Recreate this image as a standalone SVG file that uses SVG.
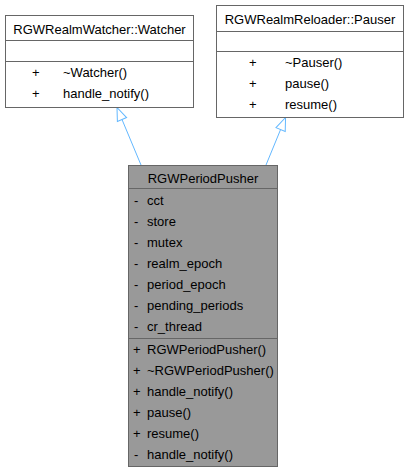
<svg xmlns="http://www.w3.org/2000/svg" width="405" height="475" viewBox="0 0 405 475">
<defs>
<marker id="inh" markerUnits="userSpaceOnUse" viewBox="-1 -7 16 14" refX="0" refY="0" markerWidth="16" markerHeight="14" orient="auto" overflow="visible">
<path d="M0,-5 L13,0 L0,5 Z" fill="#ffffff" stroke="#63b8ff" stroke-width="1"/>
</marker>
</defs>
<style>
text{font-family:"Liberation Sans",Arial,sans-serif;font-size:13px;fill:#000}
.box{fill:#ffffff;stroke:#666666;stroke-width:1}
.cur{fill:#999999;stroke:#666666;stroke-width:1}
.sep{stroke:#666666;stroke-width:1}
.c{text-anchor:middle}
.edge{stroke:#63b8ff;stroke-width:1;fill:none}
</style>
<rect width="405" height="475" fill="#ffffff"/>
<g id="connectors">
<line class="edge" x1="141" y1="165" x2="122" y2="119.5" marker-end="url(#inh)"/>
<line class="edge" x1="266" y1="165" x2="280.6" y2="129.5" marker-end="url(#inh)"/>
</g>
<g id="watcher">
<rect class="box" x="5.5" y="15.5" width="188" height="92"/>
<line class="sep" x1="5.5" y1="40.5" x2="193.5" y2="40.5"/>
<line class="sep" x1="5.5" y1="61.5" x2="193.5" y2="61.5"/>
<text class="c" x="99.5" y="33.5">RGWRealmWatcher::Watcher</text>
<text x="32" y="76.5">+</text><text x="63" y="76.5">~Watcher()</text>
<text x="32" y="97.5">+</text><text x="63" y="97.5">handle_notify()</text>
</g>
<g id="pauser">
<rect class="box" x="216.5" y="5.5" width="187" height="112"/>
<line class="sep" x1="216.5" y1="31.5" x2="403.5" y2="31.5"/>
<line class="sep" x1="216.5" y1="51.5" x2="403.5" y2="51.5"/>
<text class="c" x="310" y="23.5">RGWRealmReloader::Pauser</text>
<text x="249" y="67">+</text><text x="285" y="67">~Pauser()</text>
<text x="249" y="88">+</text><text x="285" y="88">pause()</text>
<text x="249" y="109">+</text><text x="285" y="109">resume()</text>
</g>
<g id="periodpusher">
<rect class="cur" x="128.5" y="165.5" width="149" height="301"/>
<line class="sep" x1="128.5" y1="188.5" x2="277.5" y2="188.5"/>
<line class="sep" x1="128.5" y1="338.5" x2="277.5" y2="338.5"/>
<text class="c" x="203" y="183">RGWPeriodPusher</text>
<text x="134" y="205">-</text><text x="147" y="205">cct</text>
<text x="134" y="226">-</text><text x="147" y="226">store</text>
<text x="134" y="247">-</text><text x="147" y="247">mutex</text>
<text x="134" y="268">-</text><text x="147" y="268">realm_epoch</text>
<text x="134" y="289">-</text><text x="147" y="289">period_epoch</text>
<text x="134" y="310">-</text><text x="147" y="310">pending_periods</text>
<text x="134" y="331">-</text><text x="147" y="331">cr_thread</text>
<text x="133" y="354">+</text><text x="147" y="354">RGWPeriodPusher()</text>
<text x="133" y="375">+</text><text x="147" y="375">~RGWPeriodPusher()</text>
<text x="133" y="396">+</text><text x="147" y="396">handle_notify()</text>
<text x="133" y="417">+</text><text x="147" y="417">pause()</text>
<text x="133" y="438">+</text><text x="147" y="438">resume()</text>
<text x="134" y="459">-</text><text x="147" y="459">handle_notify()</text>
</g>
</svg>
